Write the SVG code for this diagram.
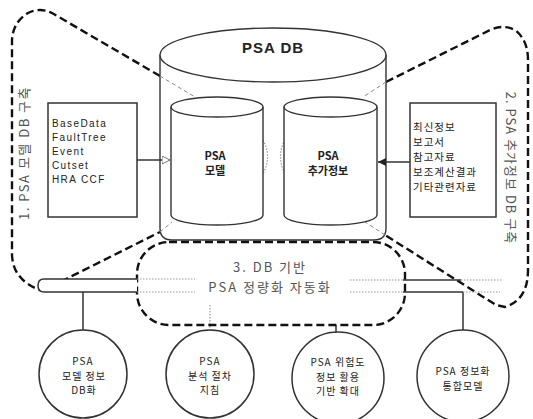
<svg xmlns="http://www.w3.org/2000/svg" width="533" height="419" viewBox="0 0 533 419">
<defs>
<style>
.dash{fill:none;stroke:#111;stroke-width:2.4;stroke-dasharray:8 4}
.lite{fill:none;stroke:#888;stroke-width:1;stroke-dasharray:4 3}
.cyl{fill:#fff;stroke:#333;stroke-width:1.4}
.box{fill:#fff;stroke:#333;stroke-width:1.5}
.ln{fill:none;stroke:#333;stroke-width:1.5}
.dot{fill:none;stroke:#999;stroke-width:1.2;stroke-dasharray:1.5 1.5}
.t{font-family:"Liberation Sans","Noto Sans CJK KR",sans-serif;fill:#222}
.k{font-family:"Noto Sans CJK KR","Liberation Sans",sans-serif;fill:#222}
.g{fill:#555}
</style>
<marker id="ah1" markerWidth="10" markerHeight="10" refX="8" refY="4" orient="auto" markerUnits="userSpaceOnUse">
<path d="M0,0 L8,4 L0,8 Z" fill="#fff" stroke="#777" stroke-width="1"/>
</marker>
<marker id="ah2" markerWidth="10" markerHeight="10" refX="8" refY="4" orient="auto" markerUnits="userSpaceOnUse">
<path d="M0,0 L8,4 L0,8 Z" fill="#222"/>
</marker>
</defs>
<rect width="533" height="419" fill="#fff"/>

<g id="region1">
<path class="dash" d="M160 76 L52 13 Q40 7 28 13 Q13 22 12 40 L12 255 Q13 280 40 290 L52 286 L160 232"/>
<text class="k g" font-size="13" letter-spacing="1.5" transform="translate(29,153) rotate(-90)" text-anchor="middle">1. PSA 모델 DB 구축</text>
</g>
<g id="region2">
<path class="dash" d="M386 82 L490 30 Q503 24 515 30 Q528 40 528 60 L528 270 Q528 300 505 307 L496 305 L385 235"/>
<text class="k g" font-size="13" letter-spacing="1" transform="translate(506,168) rotate(90)" text-anchor="middle">2. PSA 추가정보 DB 구축</text>
</g>

<g id="psadb">
<path class="cyl" d="M160 55 L160 228 Q160 240 172 240 L374 240 Q386 240 386 228 L386 55"/>
<ellipse class="cyl" cx="273" cy="55" rx="113" ry="27"/>
<text class="t" x="273" y="53" font-size="15" font-weight="bold" text-anchor="middle" letter-spacing="1">PSA DB</text>
</g>

<g id="connectors">
<path class="lite" d="M160 76 L195 97"/>
<path class="lite" d="M386 82 L363 97"/>
<path class="lite" d="M160 232 L172 222"/>
<path class="lite" d="M385 235 L365 222"/>
<path class="dot" d="M263 140 Q272 156 263 174"/>
<path class="dot" d="M285 140 Q276 156 285 174"/>
<line class="ln" x1="137" y1="160" x2="170" y2="160" stroke="#555" marker-end="url(#ah1)"/>
<line class="ln" x1="410" y1="162" x2="378" y2="162" marker-end="url(#ah2)"/>
<line class="ln" x1="83" y1="292" x2="83" y2="330"/>
<line class="dot" x1="210" y1="305" x2="210" y2="330"/>
<line class="ln" x1="336" y1="325" x2="336" y2="332"/>
<line class="ln" x1="463" y1="292" x2="463" y2="330"/>
</g>

<g id="cyl-model">
<path class="cyl" d="M171 107 L171 215 A46 10 0 0 0 263 215 L263 107"/>
<ellipse class="cyl" cx="217" cy="107" rx="46" ry="10"/>
<text class="k" x="215" y="160" font-size="11" font-weight="bold" text-anchor="middle">PSA</text>
<text class="k" x="215" y="175" font-size="11" font-weight="bold" text-anchor="middle">모델</text>
</g>
<g id="cyl-extra">
<path class="cyl" d="M284 107 L284 215 A46.5 10 0 0 0 377 215 L377 107"/>
<ellipse class="cyl" cx="330.5" cy="107" rx="46.5" ry="10"/>
<text class="k" x="328" y="160" font-size="11" font-weight="bold" text-anchor="middle">PSA</text>
<text class="k" x="328" y="175" font-size="11" font-weight="bold" text-anchor="middle">추가정보</text>
</g>

<g id="box-left">
<rect class="box" x="48" y="103" width="89" height="114"/>
<text class="t" font-size="10" letter-spacing="1.4">
<tspan x="52" y="127">BaseData</tspan>
<tspan x="52" y="141">FaultTree</tspan>
<tspan x="52" y="155">Event</tspan>
<tspan x="52" y="169">Cutset</tspan>
<tspan x="52" y="183">HRA CCF</tspan>
</text>
</g>
<g id="box-right">
<rect class="box" x="410" y="103" width="86" height="114"/>
<text class="k" font-size="10.5" letter-spacing="1">
<tspan x="413" y="131">최신정보</tspan>
<tspan x="413" y="146">보고서</tspan>
<tspan x="413" y="161">참고자료</tspan>
<tspan x="413" y="176">보조계산결과</tspan>
<tspan x="413" y="191">기타관련자료</tspan>
</text>
</g>

<g id="region3">
<rect class="dash" x="137" y="242" width="268" height="83" rx="32" ry="32"/>
<text class="k g" x="270" y="272" font-size="13" letter-spacing="2" text-anchor="middle">3. DB 기반</text>
<text class="k g" x="270" y="292" font-size="13" letter-spacing="2" text-anchor="middle">PSA 정량화 자동화</text>
</g>

<g id="bar">
<path d="M137 279 L44 279 Q38 279 38 285.5 Q38 292 44 292 L137 292" fill="#fff" stroke="#333" stroke-width="1.5"/>
<line class="dot" x1="137" y1="279" x2="195" y2="279"/>
<line class="dot" x1="137" y1="292" x2="195" y2="292"/>
<line class="dot" x1="350" y1="280" x2="403" y2="280"/>
<line class="dot" x1="350" y1="292" x2="403" y2="292"/>
<line class="ln" x1="403" y1="280" x2="461" y2="280"/>
<line class="ln" x1="403" y1="292" x2="463" y2="292"/>
<line class="dot" x1="461" y1="280" x2="503" y2="280"/>
<line class="dot" x1="463" y1="292" x2="500" y2="292"/>
</g>

<g id="c1">
<circle class="box" cx="83" cy="374" r="44"/>
<text class="k" font-size="10" letter-spacing="1" text-anchor="middle"><tspan x="83" y="365">PSA</tspan><tspan x="84" y="380">모델 정보</tspan><tspan x="84" y="394">DB화</tspan></text>
</g>
<g id="c2">
<circle class="box" cx="210" cy="374" r="44"/>
<text class="k" font-size="10" letter-spacing="1" text-anchor="middle"><tspan x="210" y="365">PSA</tspan><tspan x="210" y="380">분석 절차</tspan><tspan x="210" y="394">지침</tspan></text>
</g>
<g id="c3">
<circle class="box" cx="338" cy="378" r="46"/>
<text class="k" font-size="10" letter-spacing="1" text-anchor="middle"><tspan x="338" y="366">PSA 위험도</tspan><tspan x="338" y="381">정보 활용</tspan><tspan x="338" y="395">기반 확대</tspan></text>
</g>
<g id="c4">
<circle class="box" cx="463" cy="376" r="46"/>
<text class="k" font-size="10" letter-spacing="1" text-anchor="middle"><tspan x="463" y="375">PSA 정보화</tspan><tspan x="463" y="390">통합모델</tspan></text>
</g>
</svg>
